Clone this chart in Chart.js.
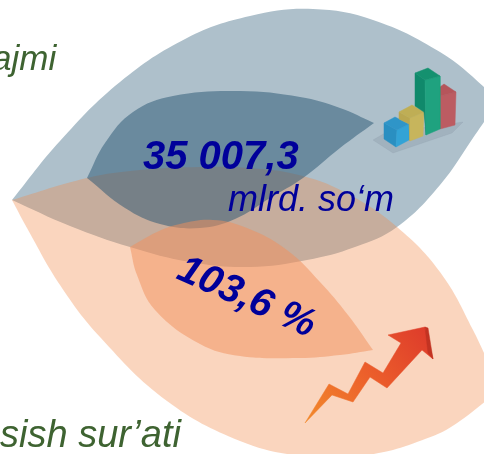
<!DOCTYPE html>
<html><head><meta charset="utf-8">
<style>html,body{margin:0;padding:0;background:#fff;overflow:hidden}canvas{display:block}</style>
<script src="https://cdn.jsdelivr.net/npm/chart.js@4"></script>
</head><body><canvas id="c" width="484" height="454"></canvas>
<script>
// Leaf outlines as [x, y]
const blueLeafTop = [[12,200],[60,141],[120,82],[187,38],[250,16],[313,9],[373,20],[440,52],[484,87],[497,103]];
const blueLeafBottom = [[12,200],[70,226],[130,247],[190,262],[250,267],[307,260],[355,247],[397,227],[440,185],[475,135],[497,103]];
const peachLeafTop = [[12,200],[87,178],[140,170],[200,167],[250,168],[303,176],[350,195],[397,227],[440,272],[473,330],[500,390]];
const peachLeafBottom = [[12,200],[27,228],[60,285],[100,337],[167,401],[240,441],[300,456],[345,457],[384,452],[417,442],[451,427],[500,390]];
const innerBlueTop = [[87,178],[105,143],[133,112],[173,96],[240,91],[300,97],[340,108],[374,123]];
const innerBlueBottom = [[87,178],[125,208],[160,224],[200,228],[235,219],[270,198],[303,178],[340,148],[374,123]];
const innerPeachTop = [[130,247],[157,232],[180,224],[213,220],[247,228],[287,250],[320,282],[348,315],[373,350]];
const innerPeachBottom = [[130,247],[137,275],[155,310],[200,344],[240,356],[300,358],[340,355],[373,350]];
// Icon faces
const iconShadow = [[373,140],[385,133],[463,122],[452,133],[393,153]];
const blueBarTop = [[384,123],[395,117],[409,124],[397,130]];
const blueBarLeft = [[384,123],[397,130],[396,147],[384,139]];
const blueBarRight = [[397,130],[409,124],[409,140],[396,147]];
const yellowBarTop = [[399,112],[412,105],[424,112],[410,118]];
const yellowBarLeft = [[399,112],[410,118],[410,141],[409,124],[399,119]];
const yellowBarRight = [[410,118],[424,112],[423,136],[410,141]];
const greenBarTop = [[415,73],[428,68],[440,76],[425,80]];
const greenBarLeft = [[415,73],[425,80],[426,135],[424,112],[415,106]];
const greenBarRight = [[425,80],[440,76],[440,129],[426,135]];
const redBarTop = [[440,87],[444,84],[456,92],[440,96]];
const redBarRight = [[440,96],[456,92],[455,125],[440,129]];
const arrowBody = [[305,423],[329,384],[348,394],[365,362],[383,373],[401,343],[388,335],[425,327],[433,359],[422,350],[387,388],[370,377],[353,402],[332,395]];
const arrowEdge = [[425,327],[428,328],[433,359],[428,353]];
// Texts
const texts = [
  {t:'ajmi', font:'italic 35px "Liberation Sans"', color:'#3E6331', x:-8, y:70, rot:0},
  {t:'sish sur’ati', font:'italic 38px "Liberation Sans"', color:'#3E6331', x:0, y:447, rot:0},
  {t:'35 007,3', font:'italic bold 40px "Liberation Sans"', color:'#00009A', x:143, y:169, rot:0},
  {t:'mlrd. so‘m', font:'italic 36px "Liberation Sans"', color:'#00009A', x:228, y:211, rot:0},
  {t:'103,6 %', font:'italic bold 40px "Liberation Sans"', color:'#00009A', x:175, y:278, rot:24}
];

const pts = a => a.map(p => ({x:p[0], y:p[1]}));
const grad = document.createElement('canvas').getContext('2d').createLinearGradient(305,423,432,330);
grad.addColorStop(0,'#F28A2C'); grad.addColorStop(.5,'#EC5F2B'); grad.addColorStop(1,'#DD3A2B');

const paint = [];
function leaf(top, bottom, color){
  // paint entry: upper curve filled down to the lower curve that follows it
  const base = {tension:.4, pointRadius:0, borderWidth:0};
  paint.push({...base, data:pts(top), fill:{target:'+1'}, backgroundColor:color, borderColor:'transparent'});
  paint.push({...base, data:pts(bottom), fill:false, borderColor:'transparent'});
}
function face(a, color){
  paint.push({data:pts(a.concat([a[0]])), fill:'shape', backgroundColor:color, borderColor:color, borderWidth:.5, pointRadius:0, tension:0});
}
leaf(blueLeafTop, blueLeafBottom, '#AEC0CB');
leaf(peachLeafTop, peachLeafBottom, 'rgba(241,138,74,.36)');
leaf(innerBlueTop, innerBlueBottom, 'rgba(38,84,113,.5)');
leaf(innerPeachTop, innerPeachBottom, 'rgba(242,143,92,.5)');
face(iconShadow,'rgba(110,125,140,.2)');
face(blueBarLeft,'#2A8FC1');face(blueBarRight,'#33A3D6');face(blueBarTop,'#2F95C8');
face(yellowBarLeft,'#B9A750');face(yellowBarRight,'#C7B55C');face(yellowBarTop,'#BFAE55');
face(redBarRight,'#BC5C62');face(redBarTop,'#B5555B');
face(greenBarLeft,'#10896B');face(greenBarRight,'#1FA27F');face(greenBarTop,'#14916F');
face(arrowBody,grad);face(arrowEdge,'#C23322');
paint.forEach((d,i)=>{d.order = paint.length - i;});

const textPlugin = {
  id:'texts',
  afterDatasetsDraw(chart){
    const ctx = chart.ctx, sx = chart.scales.x, sy = chart.scales.y;
    texts.forEach(o=>{
      ctx.save();
      ctx.translate(sx.getPixelForValue(o.x), sy.getPixelForValue(o.y));
      ctx.rotate(o.rot*Math.PI/180);
      ctx.font = o.font; ctx.fillStyle = o.color;
      ctx.textAlign='left'; ctx.textBaseline='alphabetic';
      ctx.fillText(o.t,0,0);
      ctx.restore();
    });
  }
};

new Chart(document.getElementById('c'),{
  type:'line',
  data:{datasets:paint},
  plugins:[textPlugin],
  options:{
    responsive:false, animation:false, events:[],
    layout:{padding:0},
    plugins:{legend:{display:false},tooltip:{enabled:false},title:{display:false}},
    scales:{
      x:{type:'linear',min:0,max:484,display:false},
      y:{type:'linear',min:0,max:454,reverse:true,display:false}
    }
  }
});
</script></body></html>
